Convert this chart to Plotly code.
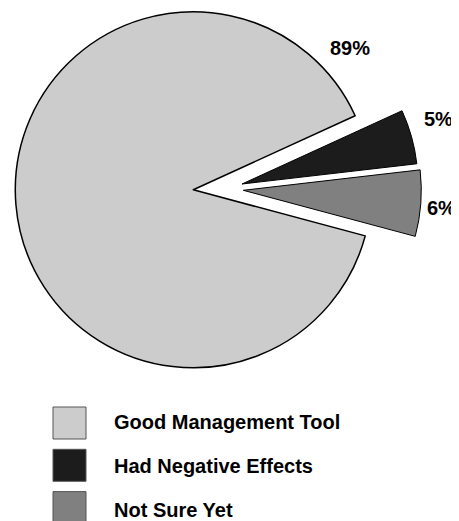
import plotly.graph_objects as go

# ---- data ----
labels = ["Good Management Tool", "Had Negative Effects", "Not Sure Yet"]
values = [89, 5, 6]
colors = ["#cccccc", "#1c1c1c", "#808080"]

# ---- layout constants (pixels of the 459x521 page) ----
PAGE_OFF = 8                       # default body margin of the html page
W, H = 459 - PAGE_OFF, 521 - PAGE_OFF
ROTATION = 105                     # first slice start angle (deg clockwise from 12 o'clock)
# (centre x, centre y, radius) of each slice's own pie: first in place, others exploded
pies = [(193.3, 189.8, 178), (242.0, 184.0, 176), (243.3, 190.3, 178)]
label_pos = [(350, 48, "center"), (422, 119, "left"), (425, 208, "left")]
FONT = "Liberation Sans, Arial, sans-serif"


def px(x):
    return (x - PAGE_OFF) / W


def py(y):
    return 1 - (y - PAGE_OFF) / H


fig = go.Figure()

for k, (cx, cy, r) in enumerate(pies):
    slice_colors = [c if i == k else "rgba(0,0,0,0)" for i, c in enumerate(colors)]
    line_w = [(1.5 if k == 0 else 1.0) if i == k else 0 for i in range(len(values))]
    fig.add_trace(go.Pie(
        labels=labels,
        values=values,
        sort=False,
        direction="clockwise",
        rotation=ROTATION,
        marker=dict(colors=slice_colors, line=dict(color="#000000", width=line_w)),
        textinfo="none",
        hoverinfo="label+percent",
        showlegend=False,
        domain=dict(
            x=[max(0, px(cx - r)), min(1, px(cx + r))],
            y=[max(0, py(cy + r)), min(1, py(cy - r))],
        ),
    ))

# percentage labels
for v, (lx, ly, anchor) in zip(values, label_pos):
    fig.add_annotation(
        x=px(lx), y=py(ly), xref="paper", yref="paper",
        text=f"<b>{v}%</b>", showarrow=False, xanchor=anchor, yanchor="middle",
        font=dict(family=FONT, size=20, color="#000000"),
    )

# legend (drawn manually for the large swatches)
BOX_X0, BOX_X1 = 53, 86
BOX_ROW0, BOX_STEP, BOX_H = 407, 42.3, 32
TEXT_X, TEXT_ROW0, TEXT_STEP = 112, 421.5, 44.3
for i, (lab, col) in enumerate(zip(labels, colors)):
    top = BOX_ROW0 + BOX_STEP * i
    fig.add_shape(
        type="rect", xref="paper", yref="paper",
        x0=px(BOX_X0), x1=px(BOX_X1),
        y0=py(top + BOX_H), y1=py(top),
        fillcolor=col, line=dict(color="#555555", width=1),
    )
    fig.add_annotation(
        x=px(TEXT_X), y=py(TEXT_ROW0 + TEXT_STEP * i), xref="paper", yref="paper",
        text=f"<b>{lab}</b>", showarrow=False, xanchor="left", yanchor="middle",
        font=dict(family=FONT, size=20, color="#000000"),
    )

fig.update_layout(
    width=W, height=H,
    margin=dict(l=0, r=0, t=0, b=0),
    paper_bgcolor="#ffffff",
    plot_bgcolor="#ffffff",
    showlegend=False,
)

fig.write_html("out.html")
